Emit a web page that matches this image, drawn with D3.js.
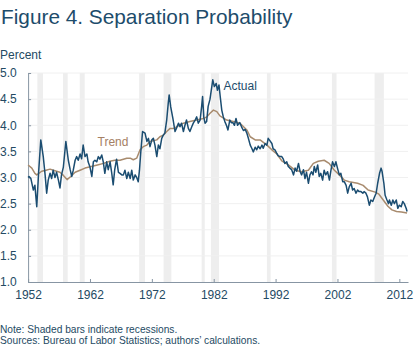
<!DOCTYPE html>
<html>
<head>
<meta charset="utf-8">
<script src="https://cdn.jsdelivr.net/npm/d3@7"></script>
<style>
  html, body { margin: 0; padding: 0; background: #fff; }
  svg { display: block; font-family: "Liberation Sans", Arial, sans-serif; }
</style>
</head>
<body>
<svg id="chart" width="420" height="348"></svg>
<script>
// ---- Data ----
const title = "Figure 4. Separation Probability";
const yUnit = "Percent";
const xTickYears = [1952, 1962, 1972, 1982, 1992, 2002, 2012];
const yTickValues = [1.0, 1.5, 2.0, 2.5, 3.0, 3.5, 4.0, 4.5, 5.0];
const notes = ["Note: Shaded bars indicate recessions.",
               "Sources: Bureau of Labor Statistics; authors\u2019 calculations."];

const recessionStarts = [1953.5, 1957.65, 1960.35, 1969.95, 1973.9, 1980.05, 1981.55, 1990.6, 2001.1, 2008.0];
const recessionEnds   = [1954.4, 1958.4, 1961.15, 1970.9, 1975.15, 1980.55, 1982.85, 1991.2, 2001.85, 2009.5];

const actualDates = [
1952.0,1952.15,1952.45,1952.85,1953.1,1953.4,1953.7,1954.05,1954.45,1954.75,
1955.0,1955.25,1955.55,1955.8,1956.05,1956.35,1956.6,1956.9,1957.15,1957.4,
1957.7,1958.1,1958.5,1958.8,1959.05,1959.3,1959.6,1959.85,1960.1,1960.4,
1960.65,1960.9,1961.2,1961.5,1961.7,1962.0,1962.3,1962.55,1962.8,1963.1,
1963.35,1963.6,1963.9,1964.15,1964.4,1964.7,1964.95,1965.25,1965.5,1965.75,
1966.0,1966.3,1966.6,1966.85,1967.15,1967.4,1967.65,1967.95,1968.2,1968.5,
1968.75,1969.0,1969.3,1969.55,1969.8,1970.0,1970.2,1970.5,1970.9,1971.2,
1971.45,1971.7,1972.0,1972.25,1972.5,1972.8,1973.05,1973.3,1973.6,1973.85,
1974.1,1974.4,1974.65,1974.8,1975.05,1975.4,1975.75,1976.0,1976.3,1976.55,
1976.8,1977.1,1977.35,1977.6,1977.9,1978.15,1978.45,1978.7,1979.0,1979.25,
1979.5,1979.8,1980.05,1980.2,1980.4,1980.6,1980.85,1981.1,1981.4,1981.85,
1982.1,1982.4,1982.6,1982.85,1983.05,1983.3,1983.55,1983.8,1984.05,1984.3,
1984.6,1984.85,1985.1,1985.35,1985.6,1985.85,1986.2,1986.5,1986.8,1987.1,
1987.35,1987.6,1987.9,1988.15,1988.4,1988.7,1988.95,1989.2,1989.5,1989.8,
1990.0,1990.3,1990.6,1990.8,1991.1,1991.4,1991.6,1991.9,1992.2,1992.4,
1992.7,1993.0,1993.25,1993.5,1993.8,1994.05,1994.3,1994.6,1994.9,1995.15,
1995.4,1995.7,1995.95,1996.2,1996.5,1996.75,1997.0,1997.3,1997.55,1997.8,
1998.05,1998.25,1998.5,1998.8,1999.05,1999.3,1999.6,1999.85,2000.1,2000.4,
2000.7,2000.95,2001.2,2001.5,2001.75,2002.0,2002.3,2002.55,2002.85,2003.1,
2003.4,2003.65,2003.9,2004.2,2004.45,2004.7,2005.0,2005.25,2005.5,2005.8,
2006.1,2006.3,2006.6,2006.85,2007.15,2007.4,2007.7,2008.0,2008.25,2008.5,
2008.8,2009.05,2009.2,2009.5,2009.7,2010.0,2010.25,2010.4,2010.7,2010.95,
2011.2,2011.5,2011.75,2012.0,2012.3,2012.55,2012.8,2013.1,2013.25
];
const actualValues = [
3.00,3.02,2.98,2.76,2.85,2.44,3.10,3.72,3.40,3.05,
2.70,2.95,3.08,2.98,3.14,3.00,3.10,2.95,2.80,3.05,
3.20,3.69,3.33,3.15,3.02,3.14,3.33,3.40,3.33,3.45,
3.36,3.62,3.40,3.45,3.30,3.20,3.02,3.30,3.33,3.30,
3.40,3.35,3.43,3.30,3.08,3.30,3.15,3.30,3.10,2.86,
3.15,3.35,3.10,3.08,3.05,3.05,3.14,2.98,3.10,2.98,
3.14,2.95,3.05,3.00,2.92,3.14,3.47,3.88,3.85,3.69,
3.75,3.59,3.72,3.75,3.62,3.40,3.62,3.55,3.75,3.81,
3.85,4.10,4.42,4.58,4.35,4.13,3.88,3.95,4.04,3.97,
4.04,3.88,4.00,4.10,3.94,3.88,3.97,4.04,4.10,4.16,
4.04,4.10,4.36,4.55,4.15,4.04,4.07,4.36,4.50,4.87,
4.74,4.80,4.67,4.77,4.55,4.29,4.16,4.07,4.00,3.91,
4.10,4.05,4.05,4.00,4.13,4.00,4.05,3.97,3.90,3.92,
3.85,3.75,3.62,3.56,3.49,3.58,3.53,3.60,3.55,3.62,
3.56,3.65,3.62,3.75,3.70,3.65,3.55,3.53,3.46,3.42,
3.40,3.40,3.35,3.27,3.30,3.21,3.18,3.15,3.05,3.18,
3.12,3.27,3.12,3.05,3.15,2.98,3.10,2.89,3.05,3.11,
3.05,3.21,3.10,3.24,3.02,3.08,2.95,3.14,3.05,3.11,
2.95,3.14,3.30,3.21,3.30,3.18,3.05,3.08,2.92,2.92,
2.85,2.70,2.82,2.89,2.76,2.79,2.70,2.76,2.73,2.73,
2.70,2.73,2.70,2.63,2.47,2.57,2.54,2.63,2.70,2.89,
3.08,3.18,3.12,2.89,2.66,2.57,2.50,2.57,2.47,2.57,
2.50,2.57,2.41,2.47,2.44,2.54,2.50,2.41,2.35
];

const trendDates = [
1952.0,1952.6,1953.1,1953.4,1954.2,1954.9,1955.55,1956.6,1957.15,1957.7,
1958.3,1958.9,1959.6,1960.4,1961.2,1962.2,1963.2,1964.2,1965.2,1966.0,
1966.85,1967.95,1968.5,1969.0,1969.55,1970.1,1970.6,1971.2,1971.7,1972.8,
1973.3,1973.85,1974.4,1974.95,1975.5,1976.0,1977.1,1978.15,1979.25,1980.3,
1980.9,1981.4,1981.95,1982.5,1983.0,1984.1,1985.15,1986.25,1987.35,1987.9,
1988.7,1989.5,1990.6,1991.4,1992.2,1993.0,1994.05,1995.15,1996.2,1997.3,
1998.1,1998.9,1999.85,2000.65,2001.5,2002.3,2003.1,2003.9,2005.25,2006.15,
2006.95,2008.1,2008.7,2009.4,2010.15,2010.8,2011.55,2012.35,2013.25
];
const trendValues = [
3.24,3.18,3.08,3.05,3.12,3.14,3.16,3.12,3.10,3.04,
2.96,3.02,3.10,3.14,3.18,3.21,3.24,3.27,3.31,3.33,
3.33,3.37,3.37,3.34,3.37,3.53,3.59,3.62,3.69,3.72,
3.78,3.81,3.88,3.94,3.94,3.97,4.04,4.07,4.10,4.13,
4.16,4.23,4.29,4.26,4.18,4.10,4.07,4.04,3.91,3.78,
3.72,3.72,3.62,3.53,3.45,3.32,3.24,3.14,3.11,3.14,
3.27,3.31,3.33,3.27,3.14,3.05,2.95,2.92,2.89,2.85,
2.76,2.72,2.68,2.57,2.45,2.38,2.35,2.34,2.32
];

// ---- Layout ----
const svg = d3.select("#chart");
const textColor = "#244a63";
const plotLeft = 28.1, plotRight = 408, plotTop = 73, plotBottom = 282;

const x = d3.scaleLinear().domain([1952, 2013.4]).range([plotLeft, plotRight]);
const y = d3.scaleLinear().domain([1, 5]).range([plotBottom, plotTop]);

// Title
svg.append("text").attr("x", 1).attr("y", 23.5)
  .attr("font-size", 20.8).attr("fill", "#1d4c6b").text(title);

// Unit label
svg.append("text").attr("x", 0).attr("y", 59)
  .attr("font-size", 12).attr("fill", textColor).text(yUnit);

// Recession bars
const recessions = recessionStarts.map((s, i) => ({ s, e: recessionEnds[i] }));
svg.append("g").selectAll("rect").data(recessions).join("rect")
  .attr("x", d => x(d.s)).attr("width", d => x(d.e) - x(d.s))
  .attr("y", y(5)).attr("height", y(1) - y(5))
  .attr("fill", "#eeeeee");

// Gridlines
svg.append("g").selectAll("line").data(yTickValues.filter(v => v > 1)).join("line")
  .attr("x1", plotLeft).attr("x2", plotRight)
  .attr("y1", d => y(d)).attr("y2", d => y(d))
  .attr("stroke", "#f0f0f0").attr("stroke-width", 1);

// Axes
const xAxis = d3.axisBottom(x).tickValues(xTickYears).tickFormat(d3.format("d"))
  .tickSizeInner(-3).tickSizeOuter(0).tickPadding(8);
const gx = svg.append("g").attr("transform", `translate(0,${plotBottom})`).call(xAxis);
gx.select(".domain").attr("stroke", "#8795a3");
gx.selectAll(".tick line").attr("stroke", "#8795a3");
gx.selectAll("text").attr("font-size", 12).attr("fill", textColor)
  .attr("font-family", "Liberation Sans, Arial, sans-serif");

const yAxis = d3.axisLeft(y).tickValues(yTickValues).tickFormat(d3.format(".1f"))
  .tickSizeInner(-3).tickSizeOuter(0).tickPadding(0);
const gy = svg.append("g").attr("transform", `translate(${plotLeft},0)`).call(yAxis);
gy.select(".domain").attr("stroke", "#8795a3");
gy.selectAll(".tick line").attr("stroke", "#8795a3");
gy.selectAll("text").attr("font-size", 12).attr("fill", textColor)
  .attr("text-anchor", "start").attr("x", -plotLeft)
  .attr("font-family", "Liberation Sans, Arial, sans-serif");

// Lines
const trendPts = trendDates.map((d, i) => [d, trendValues[i]]);
const actualPts = actualDates.map((d, i) => [d, actualValues[i]]);
const line = d3.line().x(d => x(d[0])).y(d => y(d[1]));

svg.append("path").datum(trendPts).attr("d", line)
  .attr("fill", "none").attr("stroke", "#a88b6e").attr("stroke-width", 1.5)
  .attr("stroke-linejoin", "round");
svg.append("path").datum(actualPts).attr("d", line)
  .attr("fill", "none").attr("stroke", "#1b4d71").attr("stroke-width", 1.5)
  .attr("stroke-linejoin", "round");

// Series labels
svg.append("text").attr("x", 97.5).attr("y", 145.5)
  .attr("font-size", 12).attr("fill", "#a58064").text("Trend");
svg.append("text").attr("x", 223.5).attr("y", 90)
  .attr("font-size", 12).attr("fill", "#1d4c6b").text("Actual");

// Footer notes
svg.append("g").selectAll("text").data(notes).join("text")
  .attr("x", 0).attr("y", (d, i) => 333 + i * 11)
  .attr("font-size", 10.2).attr("fill", textColor).text(d => d);
</script>
</body>
</html>
